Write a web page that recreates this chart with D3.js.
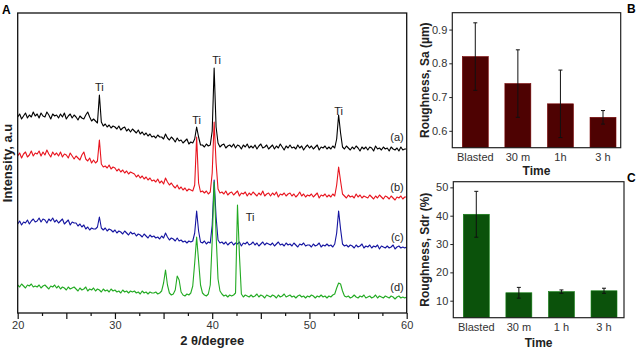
<!DOCTYPE html>
<html>
<head>
<meta charset="utf-8">
<script src="https://cdn.jsdelivr.net/npm/d3@7/dist/d3.min.js"></script>
<style>
  body { margin: 0; background: #fff; }
  svg { font-family: "Liberation Sans", Arial, sans-serif; }
</style>
</head>
<body>
<div id="chart"></div>
<script>
/* XRD patterns (A) + roughness bars (B, C) */

// ---- data ----
const thetaStart = 20, thetaStep = 0.2;   // 2theta sampling of the scans

const scanA = [ // (a) black
  196,199,194,197,200,195,198,196,201,197,
  199,195,200,197,196,201,198,194,199,197,
  198,195,199,196,200,194,197,199,195,198,
  196,193,197,195,194,198,201,196,192,194,
  192,190,218,191,187,189,186,188,185,187,
  186,184,187,183,185,186,182,184,181,184,
  182,180,183,179,181,178,180,177,179,176,
  177,175,178,176,176,174,179,175,173,176,
  174,171,175,172,173,170,172,174,169,171,
  170,174,186,176,168,168,166,169,167,168,
  182,245,186,170,166,168,169,165,167,168,
  166,169,165,168,167,164,168,166,169,165,
  167,165,168,164,167,169,165,166,168,164,
  166,168,164,167,165,169,166,163,167,165,
  168,165,166,164,168,165,167,163,166,168,
  165,167,164,166,168,163,166,165,167,164,
  166,164,167,165,174,198,180,166,164,167,
  165,163,166,164,167,165,162,166,164,166,
  163,166,165,162,167,164,165,163,166,164,
  165,162,166,164,163,165,162,166,163,164,
  164];

const scanB = [ // (b) red
  157,160,155,159,161,156,158,162,157,160,
  159,162,157,161,158,163,159,156,161,158,
  160,157,161,156,159,158,155,160,157,154,
  157,155,153,158,161,154,152,155,150,153,
  150,152,173,149,146,147,145,148,144,146,
  145,142,144,141,143,140,142,139,141,140,
  139,136,138,135,137,134,136,133,135,132,
  133,131,134,130,132,129,135,131,128,130,
  127,125,128,124,126,123,125,122,124,123,
  122,128,176,130,121,122,120,122,119,121,
  140,191,150,124,120,121,119,122,118,120,
  121,118,120,122,117,120,119,121,117,120,
  118,121,119,117,120,118,122,117,119,120,
  117,120,118,121,116,119,118,120,117,119,
  120,117,119,116,118,121,117,119,116,118,
  117,119,116,118,120,115,118,117,119,116,
  118,116,119,117,128,146,132,119,117,115,
  118,116,117,115,119,116,118,115,117,116,
  115,118,116,114,117,115,118,116,114,117,
  116,114,117,115,113,116,115,117,114,116,
  116];

const scanC = [ // (c) blue
  89,92,88,91,90,93,89,92,94,91,
  92,95,91,94,93,90,94,92,95,91,
  93,90,92,94,89,91,93,88,91,90,
  90,87,89,86,88,84,86,83,85,84,
  84,86,96,85,83,85,82,84,83,81,
  83,80,82,81,79,82,80,78,81,79,
  80,77,79,78,76,79,77,75,78,76,
  77,75,76,74,77,75,80,76,73,75,
  74,72,75,72,73,71,72,70,72,71,
  72,80,102,82,71,70,72,69,71,70,
  88,133,96,73,70,71,69,71,68,70,
  71,68,70,69,71,67,70,69,71,68,
  69,71,68,70,67,69,71,68,70,69,
  68,70,67,69,71,68,69,67,70,68,
  69,67,70,68,66,69,68,70,67,68,
  68,66,69,67,68,70,66,68,67,69,
  67,68,66,69,80,102,84,69,67,68,
  66,68,67,65,68,66,67,69,65,67,
  66,68,65,67,66,68,64,67,66,65,
  67,65,66,68,64,66,67,65,66,65,
  66];

const scanD = [ // (d) green
  28,26,29,27,25,28,27,29,26,27,
  26,28,25,27,28,26,24,27,26,28,
  25,27,24,26,25,23,26,24,25,26,
  24,22,25,23,24,26,22,24,23,25,
  22,24,23,21,24,22,23,21,24,22,
  23,21,22,20,23,21,22,20,22,21,
  22,20,21,19,22,20,21,19,21,20,
  20,21,19,20,22,30,43,28,20,18,
  19,23,37,33,21,18,17,19,18,20,
  27,50,76,52,28,20,18,17,19,28,
  72,131,78,34,22,19,17,18,16,18,
  17,18,20,108,58,19,16,18,17,16,
  18,16,17,19,16,18,17,15,18,17,
  16,18,17,15,18,16,17,19,16,17,
  18,16,17,15,17,18,16,17,15,17,
  16,18,17,15,17,16,18,16,17,15,
  17,16,18,19,25,30,29,22,17,16,
  17,15,16,18,16,15,17,16,18,15,
  16,17,15,16,18,15,17,16,15,17,
  16,15,17,16,14,16,17,15,16,15,
  16];

const scanNames = ["(a)", "(b)", "(c)", "(d)"];
const scanColors = ["#000000", "#e8141e", "#1414a0", "#22aa22"];
// where the "(x)" tags sit, in intensity units
const scanTagLevel = [172, 122, 72, 22];

// Ti reflections: [2theta, intensity] of the label
const tiLabels = [[28.4, 222], [38.4, 189], [40.45, 249], [53.0, 198], [43.9, 92]];

const groups = ["Blasted", "30 m", "1h", "3 h"];
const groupsC = ["Blasted", "30 m", "1 h", "3 h"];
const sa = [0.82, 0.74, 0.68, 0.64];
const saErr = [0.10, 0.10, 0.10, 0.02];
const sdr = [40.5, 12.8, 13.2, 13.5];
const sdrErr = [8.1, 1.9, 0.6, 0.9];

// ---- svg ----
const width = 638, height = 351;
const svg = d3.select("#chart").append("svg")
    .attr("width", width).attr("height", height)
    .attr("viewBox", [0, 0, width, height]);

// ===== Panel A =====
const a = { left: 17.7, right: 406.7, top: 13, bottom: 313 };

const x = d3.scaleLinear().domain([20, 60]).range([a.left, a.right]);
const y = d3.scaleLinear().domain([0, 300]).range([a.bottom, a.top]);

const line = d3.line()
    .x((d, i) => x(thetaStart + i * thetaStep))
    .y(d => y(d));

[scanA, scanB, scanC, scanD].forEach((s, k) => {
  svg.append("path")
      .datum(s)
      .attr("d", line)
      .attr("fill", "none")
      .attr("stroke", scanColors[k])
      .attr("stroke-width", 1.1)
      .attr("stroke-linejoin", "round");
});

// frame
svg.append("rect")
    .attr("x", a.left).attr("y", a.top)
    .attr("width", a.right - a.left).attr("height", a.bottom - a.top)
    .attr("fill", "none").attr("stroke", "#111").attr("stroke-width", 1.3);

// x axis, major ticks every 5 (labels at 10), minor every 2.5
svg.append("g")
    .attr("transform", `translate(0,${a.bottom})`)
    .call(d3.axisBottom(x).tickValues(d3.range(20, 61, 5)).tickSize(6).tickPadding(2)
      .tickFormat(d => d % 10 === 0 ? d : ""))
    .call(g => g.select(".domain").remove())
    .call(g => g.selectAll("line").attr("stroke", "#111").attr("stroke-width", 1.2))
    .call(g => g.selectAll("text").attr("font-size", 11).attr("fill", "#333"));

svg.append("g")
    .attr("transform", `translate(0,${a.bottom})`)
    .call(d3.axisBottom(x).tickValues(d3.range(22.5, 60, 5)).tickSize(3).tickFormat(""))
    .call(g => g.select(".domain").remove())
    .call(g => g.selectAll("line").attr("stroke", "#111").attr("stroke-width", 1.2));

svg.append("text")
    .attr("x", x(40)).attr("y", 345)
    .attr("text-anchor", "middle")
    .attr("font-size", 13).attr("font-weight", "bold").attr("fill", "#222")
    .text("2 θ/degree");

svg.append("text")
    .attr("transform", `translate(12,${(a.top + a.bottom) / 2}) rotate(-90)`)
    .attr("text-anchor", "middle")
    .attr("font-size", 13).attr("font-weight", "bold").attr("fill", "#222")
    .text("Intensity, a.u");

svg.append("text")
    .attr("x", 2).attr("y", 14)
    .attr("font-size", 12).attr("font-weight", "bold")
    .text("A");

// Ti labels
svg.selectAll(".ti")
  .data(tiLabels)
  .join("text")
    .attr("class", "ti")
    .attr("x", d => x(d[0])).attr("y", d => y(d[1]))
    .attr("text-anchor", "middle")
    .attr("font-size", 11).attr("fill", "#222")
    .text("Ti");

// scan tags
svg.selectAll(".tag")
  .data(scanNames)
  .join("text")
    .attr("class", "tag")
    .attr("x", x(59.7)).attr("y", (d, i) => y(scanTagLevel[i]))
    .attr("text-anchor", "end")
    .attr("font-size", 11).attr("fill", "#222")
    .text(d => d);

// ===== Bar panels B and C =====
function barPanel(box, cats, vals, errs, domain, ticks, fmt, color, ylabel, letter, titleGap) {
  const xb = d3.scaleBand().domain(cats)
      .range([box.left, box.left + 173.7])
      .paddingInner(0.39).paddingOuter(0.235);
  const yb = d3.scaleLinear().domain(domain).range([box.bottom, box.top]);

  const g = svg.append("g");

  g.selectAll(".bar")
    .data(vals)
    .join("rect")
      .attr("x", (d, i) => xb(cats[i]))
      .attr("y", d => yb(d))
      .attr("width", xb.bandwidth())
      .attr("height", d => yb(domain[0]) - yb(d))
      .attr("fill", color)
      .attr("stroke", d3.color(color).brighter(1.2))
      .attr("stroke-width", 0.6);

  // error bars
  const cx = i => xb(cats[i]) + xb.bandwidth() / 2;
  vals.forEach((v, i) => {
    g.append("line")
        .attr("x1", cx(i)).attr("x2", cx(i))
        .attr("y1", yb(v + errs[i])).attr("y2", yb(v - errs[i]))
        .attr("stroke", "#111").attr("stroke-width", 1);
    [v + errs[i], v - errs[i]].forEach(e => {
      g.append("line")
          .attr("x1", cx(i) - 2).attr("x2", cx(i) + 2)
          .attr("y1", yb(e)).attr("y2", yb(e))
          .attr("stroke", "#111").attr("stroke-width", 1);
    });
  });

  g.append("rect")
      .attr("x", box.left).attr("y", box.top)
      .attr("width", box.right - box.left).attr("height", box.bottom - box.top)
      .attr("fill", "none").attr("stroke", "#222").attr("stroke-width", 1.2);

  g.append("g")
      .attr("transform", `translate(${box.left},0)`)
      .call(d3.axisLeft(yb).tickValues(ticks).tickSize(3).tickPadding(2).tickFormat(fmt))
      .call(s => s.select(".domain").remove())
      .call(s => s.selectAll("line").attr("stroke", "#222"))
      .call(s => s.selectAll("text").attr("font-size", 11).attr("fill", "#333"));

  g.append("g")
      .attr("transform", `translate(0,${box.bottom})`)
      .call(d3.axisBottom(xb).tickSize(0).tickPadding(6))
      .call(s => s.select(".domain").remove())
      .call(s => s.selectAll("text").attr("font-size", 11).attr("fill", "#333"));

  g.append("text")
      .attr("x", (box.left + box.right) / 2).attr("y", box.bottom + titleGap)
      .attr("text-anchor", "middle")
      .attr("font-size", 12).attr("font-weight", "bold").attr("fill", "#222")
      .text("Time");

  g.append("text")
      .attr("transform", `translate(429,${(box.top + box.bottom) / 2}) rotate(-90)`)
      .attr("text-anchor", "middle")
      .attr("font-size", 12).attr("font-weight", "bold").attr("fill", "#222")
      .text(ylabel);

  g.append("text")
      .attr("x", 627).attr("y", box.top)
      .attr("font-size", 12).attr("font-weight", "bold")
      .text(letter);
}

barPanel({ left: 452.3, right: 620.7, top: 12.7, bottom: 147.7 },
    groups, sa, saErr, [0.55, 0.95], [0.6, 0.7, 0.8, 0.9], d3.format(".1f"),
    "#4e0202", "Roughness, Sa (µm)", "B", 27);

barPanel({ left: 453.3, right: 624, top: 181.7, bottom: 317.7 },
    groupsC, sdr, sdrErr, [4, 52], [10, 20, 30, 40, 50], d3.format("d"),
    "#0b520b", "Roughness, Sdr (%)", "C", 29);
</script>
</body>
</html>
